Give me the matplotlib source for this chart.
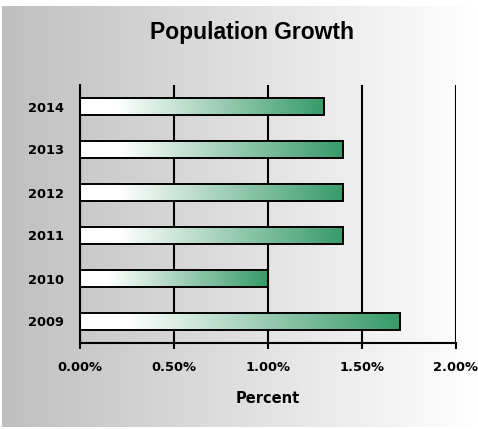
import numpy as np
import matplotlib.pyplot as plt
from matplotlib.colors import LinearSegmentedColormap

years = ['2009', '2010', '2011', '2012', '2013', '2014']
growth = [1.70, 1.00, 1.40, 1.40, 1.40, 1.30]
xticks = [0.0, 0.5, 1.0, 1.5, 2.0]
xtick_labels = ['0.00%', '0.50%', '1.00%', '1.50%', '2.00%']

W, H = 478, 429
fig = plt.figure(figsize=(W / 100, H / 100), dpi=100, facecolor='white')

# background gradient, gray on the left fading to white
bg = fig.add_axes([2 / W, 2 / H, 1 - 2 / W, 1 - 8 / H], zorder=0)
grad = np.linspace(0, 1, 256).reshape(1, -1)
bg_cmap = LinearSegmentedColormap.from_list('bg', ['#bfbfbf', '#ffffff'])
bg.imshow(grad, aspect='auto', cmap=bg_cmap, extent=[0, 1, 0, 1])
bg.axis('off')

ax = fig.add_axes([80 / W, 1 - 343 / H, 376 / W, 258 / H], zorder=1)
ax.set_facecolor('none')

bar_cmap = LinearSegmentedColormap.from_list('bar', [(0, '#ffffff'), (0.15, '#ffffff'), (1, '#369a68')])
y = np.arange(len(years))
bars = ax.barh(y, growth, height=0.4, color='none', edgecolor='black', linewidth=1.4, zorder=3)
for b in bars:
    x0, y0, w, h = b.get_x(), b.get_y(), b.get_width(), b.get_height()
    ax.imshow(grad, aspect='auto', cmap=bar_cmap, extent=[x0, x0 + w, y0, y0 + h], zorder=2)

ax.set_xlim(0, 2.0)
ax.set_ylim(-0.5, len(years) - 0.5)
ax.set_xticks(xticks)
ax.set_xticklabels(xtick_labels)
ax.set_yticks(y)
ax.set_yticklabels(years)

for lab in ax.get_xticklabels() + ax.get_yticklabels():
    lab.set_fontfamily('DejaVu Sans')
    lab.set_fontweight('bold')
    lab.set_fontsize(9.4)
ax.tick_params(axis='x', length=4, width=1.5, pad=9, color='black')
ax.tick_params(axis='y', length=0, pad=11.5)

ax.grid(axis='x', color='black', linewidth=1.5, zorder=1)
ax.set_axisbelow(True)
for s in ['top', 'right']:
    ax.spines[s].set_visible(False)
for s in ['left', 'bottom']:
    ax.spines[s].set_linewidth(1.5)
    ax.spines[s].set_zorder(4)

ax.set_xlabel('Percent', family='DejaVu Sans', fontweight='bold', fontsize=10.5, labelpad=12)
fig.text(252 / W, 1 - 33 / H, 'Population Growth', family='Liberation Sans',
         fontweight='bold', fontsize=16.5, ha='center', va='center')

plt.savefig('out.png', dpi=100)
plt.close()
